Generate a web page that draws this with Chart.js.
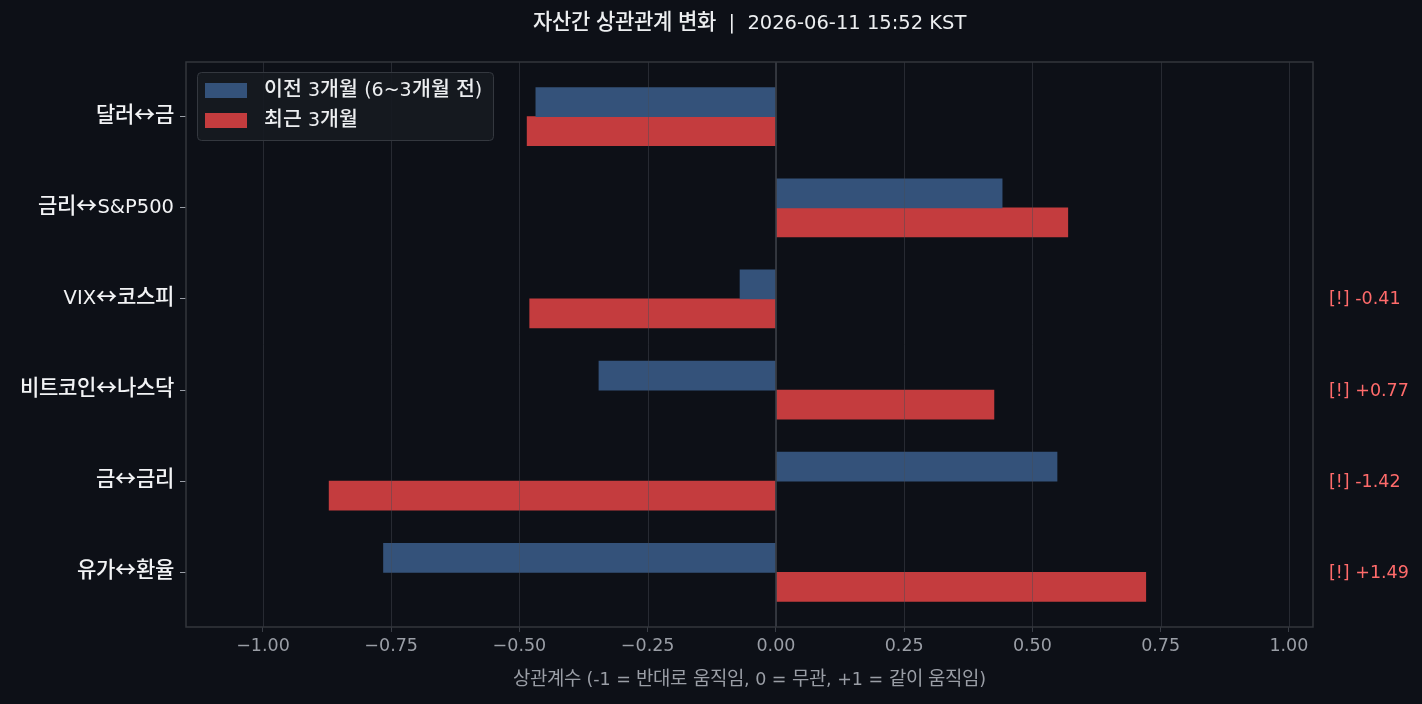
<!DOCTYPE html>
<html><head><meta charset="utf-8">
<script src="https://cdn.jsdelivr.net/npm/chart.js@4/dist/chart.umd.min.js"></script>
<style>
@font-face { font-family: 'KRX'; font-weight: 400; size-adjust: 108%;
  src: local('Noto Sans CJK KR'), local('Noto Sans CJK KR Regular'), local('NotoSansCJKkr-Regular');
  unicode-range: U+1100-11FF, U+3130-318F, U+AC00-D7AF, U+2194; }
@font-face { font-family: 'KRX'; font-weight: 500; size-adjust: 108%;
  src: local('Noto Sans CJK KR Medium'), local('NotoSansCJKkr-Medium'), local('Noto Sans CJK KR');
  unicode-range: U+1100-11FF, U+3130-318F, U+AC00-D7AF, U+2194; }
html,body{margin:0;padding:0;background:#0d1017;}#wrap{width:1422px;height:704px;}
</style>
</head><body><div id="wrap"><canvas id="c" width="1422" height="704"></canvas></div>
<script>
const categories = ['달러↔금','금리↔S&P500','VIX↔코스피','비트코인↔나스닥','금↔금리','유가↔환율'];
const prevValues = [-0.468, 0.441, -0.070, -0.345, 0.548, -0.765];
const recentValues = [-0.485, 0.569, -0.480, 0.425, -0.871, 0.721];
const alertLabels = ['', '', '[!] -0.41', '[!] +0.77', '[!] -1.42', '[!] +1.49'];
const xTicks = [-1.0, -0.75, -0.5, -0.25, 0, 0.25, 0.5, 0.75, 1.0];
const seriesNames = ['이전 3개월 (6~3개월 전)', '최근 3개월'];
const titleText = '자산간 상관관계 변화  |  2026-06-11 15:52 KST';
const xTitle = '상관계수 (-1 = 반대로 움직임, 0 = 무관, +1 = 같이 움직임)';

const FONT = "'KRX', 'DejaVu Sans', 'Noto Sans CJK KR', sans-serif";
const fmt = v => (v < 0 ? '\u2212' : '') + Math.abs(v).toFixed(2);

const extras = {
  id: 'extras',
  beforeDraw(chart) {
    const ctx = chart.ctx;
    ctx.save();
    ctx.fillStyle = '#0d1017';
    ctx.fillRect(0, 0, chart.width, chart.height);
    ctx.restore();
  },
  afterDatasetsDraw(chart) {
    const {ctx, chartArea: a, scales: {x, y}} = chart;
    ctx.save();
    ctx.strokeStyle = 'rgba(70,75,85,0.45)';
    ctx.lineWidth = 1;
    xTicks.forEach(t => {
      const px = Math.round(x.getPixelForValue(t)) + 0.5;
      ctx.beginPath(); ctx.moveTo(px, a.top); ctx.lineTo(px, a.bottom); ctx.stroke();
    });
    ctx.strokeStyle = '#3a3e46';
    ctx.lineWidth = 1.5;
    const z = x.getPixelForValue(0);
    ctx.beginPath(); ctx.moveTo(z, a.top); ctx.lineTo(z, a.bottom); ctx.stroke();
    ctx.strokeStyle = '#33363d';
    ctx.lineWidth = 1.5;
    ctx.strokeRect(a.left, a.top, a.right - a.left, a.bottom - a.top);
    // legend
    const lx = 197, ly = 72, lw = 296, lh = 68;
    ctx.fillStyle = 'rgba(22,26,33,0.92)';
    ctx.strokeStyle = '#34383f';
    ctx.lineWidth = 1;
    ctx.beginPath();
    ctx.roundRect(lx + 0.5, ly + 0.5, lw, lh, 4);
    ctx.fill(); ctx.stroke();
    ctx.font = '500 19px ' + FONT;
    ctx.textBaseline = 'middle';
    ctx.textAlign = 'left';
    chart.data.datasets.forEach((ds, i) => {
      const cy = ly + 18 + i * 30;
      ctx.fillStyle = ds.backgroundColor;
      ctx.fillRect(lx + 8, cy - 7, 42, 15);
      ctx.fillStyle = '#eceef0';
      ctx.fillText(ds.label, lx + 67, cy + 1);
    });
    ctx.font = '17.5px ' + FONT;
    ctx.fillStyle = '#ff6b6b';
    alertLabels.forEach((t, i) => {
      if (!t) return;
      ctx.fillText(t, 1329, y.getPixelForValue(i) + 1);
    });
    ctx.font = '500 19.5px ' + FONT;
    ctx.fillStyle = '#eceef0';
    ctx.textAlign = 'center';
    ctx.fillText(titleText, (a.left + a.right) / 2, 24);
    ctx.font = '17.5px ' + FONT;
    ctx.fillStyle = '#9a9ea6';
    ctx.fillText(xTitle, (a.left + a.right) / 2, 680);
    ctx.restore();
  }
};

function build() {
  new Chart(document.getElementById('c'), {
    type: 'bar',
    data: {
      datasets: [
        {label: seriesNames[0], data: prevValues.map((v, i) => ({x: v, y: i})), backgroundColor: '#34527a', barThickness: 29, borderWidth: 0},
        {label: seriesNames[1], data: recentValues.map((v, i) => ({x: v, y: i})), backgroundColor: '#c43c3e', barThickness: 29, borderWidth: 0}
      ]
    },
    options: {
      indexAxis: 'y',
      responsive: false,
      animation: false,
      layout: {padding: {left: 0, top: 62, right: 109, bottom: 0}},
      plugins: {legend: {display: false}, title: {display: false}, tooltip: {enabled: false}},
      scales: {
        x: {
          type: 'linear', min: -1.15, max: 1.047, offset: false,
          afterBuildTicks: s => { s.ticks = xTicks.map(v => ({value: v})); },
          afterFit: s => { s.height = 77; },
          grid: {drawOnChartArea: false, drawTicks: true, tickLength: 5, tickColor: '#3a3e46', lineWidth: 1, offset: false},
          border: {display: false},
          ticks: {color: '#9a9ea6', font: {family: FONT, size: 17.5}, padding: 4, callback: v => fmt(v), maxRotation: 0, autoSkip: false}
        },
        y: {
          type: 'linear', min: -0.6, max: 5.6, reverse: true, offset: false,
          afterBuildTicks: s => { s.ticks = categories.map((c, i) => ({value: i})); },
          afterFit: s => { s.width = 186; },
          grid: {drawOnChartArea: false, drawTicks: true, tickLength: 6, tickColor: '#9a9ea6', lineWidth: 1, offset: false},
          border: {display: false},
          ticks: {color: '#f2f3f5', font: {family: FONT, size: 19.5, weight: '500'}, padding: 6, callback: v => categories[v] ?? '', autoSkip: false}
        }
      }
    },
    plugins: [extras]
  });
}
Promise.all([
  document.fonts.load("400 20px 'KRX'", '가↔'),
  document.fonts.load("500 20px 'KRX'", '가↔')
]).catch(() => {}).then(build);
</script></body></html>
